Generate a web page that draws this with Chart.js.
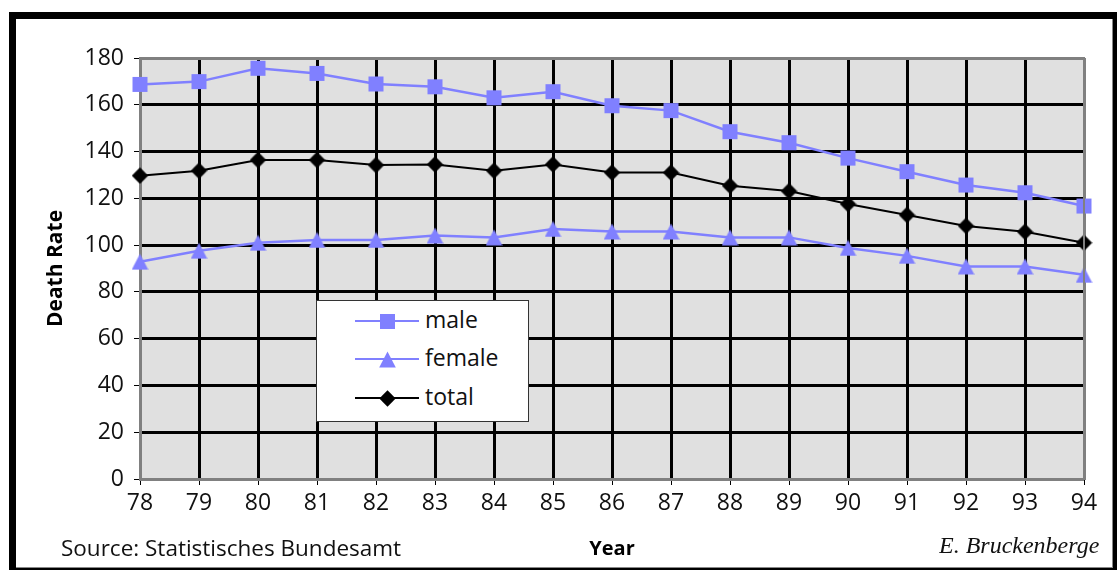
<!DOCTYPE html>
<html>
<head>
<meta charset="utf-8">
<script src="https://cdn.jsdelivr.net/npm/chart.js@4.4.1/dist/chart.umd.min.js"></script>
<style>
  body { margin: 0; background: #fff; font-family: "Open Sans", sans-serif; }
  #wrap { position: relative; width: 1117px; height: 570px; overflow: hidden; }
  #outer { position: absolute; left: 9px; top: 12px; width: 1130px; height: 580px; background: #000; }
  #inner { position: absolute; left: 16px; top: 19px; width: 1096px; height: 548px; background: #fff; border-right: 1px solid #888; border-bottom: 1px solid #888; }
  #myChart { position: absolute; left: 0; top: 0; }
  #source { position: absolute; left: 61px; top: 532px; font-size: 22.5px; color: #111; white-space: nowrap; }
  #author { position: absolute; left: 939px; top: 532px; font-family: "Liberation Serif", serif; font-style: italic; font-size: 24px; color: #111; white-space: nowrap; width: 161px; overflow: hidden; }
  #legend { position: absolute; left: 316px; top: 300px; width: 211px; height: 120px; background: #fff; border: 1px solid #333; }
  .row { position: absolute; left: 0; height: 30px; }
  .row .ln { position: absolute; left: 38px; width: 64px; top: 14px; height: 2px; }
  .row canvas { position: absolute; }
  .row span { position: absolute; left: 108px; top: -3px; font-size: 23px; color: #111; white-space: nowrap; }
</style>
</head>
<body>
<div id="wrap">
  <div id="outer"></div>
  <div id="inner"></div>
  <canvas id="myChart" width="1117" height="570"></canvas>
  <div id="legend"></div>
  <div id="source">Source: Statistisches Bundesamt</div>
  <div id="author">E. Bruckenberge</div>
</div>
<script>
// donnees
var years = ['78','79','80','81','82','83','84','85','86','87','88','89','90','91','92','93','94'];
var male = [168.7, 169.9, 175.6, 173.4, 168.9, 167.7, 163.0, 165.6, 159.6, 157.5, 148.5, 143.8, 137.2, 131.4, 125.7, 122.4, 116.7];
var female = [92.9, 97.6, 101.0, 102.2, 102.2, 104.1, 103.3, 106.9, 105.8, 105.8, 103.3, 103.3, 98.8, 95.4, 90.9, 90.9, 87.3];
var total = [129.7, 131.8, 136.4, 136.4, 134.2, 134.5, 131.8, 134.5, 131.0, 131.0, 125.4, 123.1, 117.6, 112.9, 108.2, 105.7, 101.0];
var seriesNames = ['male', 'female', 'total'];
var yMin = 0, yMax = 180, yStep = 20;
var xTitle = 'Year';
var yTitle = 'Death Rate';

var blue = '#8080ff';

// marqueurs dessines a la main (centres comme dans Excel)
function marker(kind, color) {
  var c = document.createElement('canvas');
  var s = 17;
  c.width = s; c.height = s;
  var g = c.getContext('2d');
  g.fillStyle = color;
  g.beginPath();
  if (kind == 'square') {
    g.rect(1, 1, 15, 15);
  } else if (kind == 'triangle') {
    g.moveTo(8.5, 0.5);
    g.lineTo(16.8, 16.5);
    g.lineTo(0.2, 16.5);
    g.closePath();
  } else {
    g.moveTo(8.5, 0.3);
    g.lineTo(16.7, 8.5);
    g.lineTo(8.5, 16.7);
    g.lineTo(0.3, 8.5);
    g.closePath();
  }
  g.fill();
  return c;
}

var mSquare = marker('square', blue);
var mTri = marker('triangle', blue);
var mDiam = marker('diamond', '#000');

var bgPlugin = {
  id: 'plotBg',
  beforeDraw: function (chart) {
    var a = chart.chartArea;
    var ctx = chart.ctx;
    ctx.save();
    ctx.fillStyle = '#e0e0e0';
    ctx.fillRect(a.left, a.top, a.right - a.left, a.bottom - a.top);
    ctx.restore();
  },
  afterDatasetsDraw: function (chart) {
    // bord gris en haut et a droite
    var a = chart.chartArea;
    var ctx = chart.ctx;
    ctx.save();
    ctx.strokeStyle = '#808080';
    ctx.lineWidth = 2;
    ctx.beginPath();
    ctx.moveTo(a.left, a.top);
    ctx.lineTo(a.right, a.top);
    ctx.lineTo(a.right, a.bottom);
    ctx.stroke();
    ctx.restore();
  }
};

var ctx = document.getElementById('myChart');

new Chart(ctx, {
  type: 'line',
  data: {
    labels: years,
    datasets: [
      { label: seriesNames[0], data: male, borderColor: blue, borderWidth: 2.5, pointStyle: mSquare, pointRadius: 8 },
      { label: seriesNames[1], data: female, borderColor: blue, borderWidth: 2.5, pointStyle: mTri, pointRadius: 8 },
      { label: seriesNames[2], data: total, borderColor: '#000', borderWidth: 2, pointStyle: mDiam, pointRadius: 8 }
    ]
  },
  options: {
    responsive: false,
    animation: false,
    layout: { padding: { left: 0, top: 58, right: 33, bottom: 0 } },
    plugins: { legend: { display: false }, tooltip: { enabled: false } },
    scales: {
      x: {
        offset: false,
        afterFit: function (s) { s.height = 91; },
        grid: {
          offset: false,
          color: function (c) { return (c.index == 0 || c.index == years.length - 1) ? '#808080' : '#000'; },
          lineWidth: 3,
          tickColor: '#000',
          tickWidth: 1,
          tickLength: 6
        },
        border: { display: true, color: '#808080', width: 2 },
        ticks: { color: '#111', padding: 5, maxRotation: 0, autoSkip: false, font: { family: 'Open Sans', size: 23 } },
        title: { display: true, text: xTitle, color: '#000', font: { family: 'Open Sans', size: 20, weight: 'bold' }, padding: { top: 0, bottom: 9 } }
      },
      y: {
        min: yMin,
        max: yMax,
        afterFit: function (s) { s.width = 140; },
        grid: {
          color: function (c) { return (c.tick.value == yMin || c.tick.value == yMax) ? '#808080' : '#000'; },
          lineWidth: 3,
          tickColor: '#000',
          tickWidth: 1,
          tickLength: 6
        },
        border: { display: true, color: '#808080', width: 3 },
        ticks: { stepSize: yStep, color: '#111', padding: 10, font: { family: 'Open Sans', size: 23 } },
        title: { display: true, text: yTitle, color: '#000', font: { family: 'Open Sans', size: 21, weight: 'bold' }, padding: { top: 43, bottom: 0 } }
      }
    }
  },
  plugins: [bgPlugin]
});

// legende en HTML
var legend = document.getElementById('legend');
var legendColors = [blue, blue, '#000'];
var rowTops = [5, 43, 82];
for (var i = 0; i < seriesNames.length; i++) {
  var row = document.createElement('div');
  row.className = 'row';
  row.style.top = rowTops[i] + 'px';
  var ln = document.createElement('div');
  ln.className = 'ln';
  ln.style.background = legendColors[i];
  row.appendChild(ln);
  var m = marker(i == 0 ? 'square' : (i == 1 ? 'triangle' : 'diamond'), legendColors[i]);
  m.style.left = (70 - 8) + 'px';
  m.style.top = (15 - 8) + 'px';
  row.appendChild(m);
  var t = document.createElement('span');
  t.appendChild(document.createTextNode(seriesNames[i]));
  row.appendChild(t);
  legend.appendChild(row);
}
</script>
</body>
</html>
